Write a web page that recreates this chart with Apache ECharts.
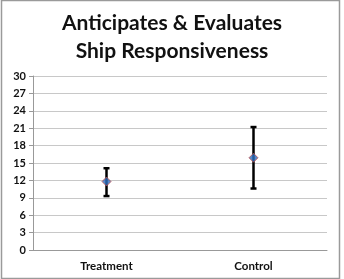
<!DOCTYPE html>
<html>
<head>
<meta charset="utf-8">
<script src="https://cdn.jsdelivr.net/npm/echarts@6/dist/echarts.min.js"></script>
<style>
  html, body { margin: 0; padding: 0; background: #fff; }
  #chart { width: 344px; height: 279px; }
</style>
</head>
<body>
<div id="chart"></div>
<script>
  const categories = ['Treatment', 'Control']
  const means = [11.8, 15.9]
  const lows = [9.3, 10.6]
  const highs = [14.1, 21.2]
  const yTicks = [0, 3, 6, 9, 12, 15, 18, 21, 24, 27, 30]

  const chart = echarts.init(document.getElementById('chart'))
  chart.setOption({
    animation: false,
    textStyle: { fontFamily: 'Lato' },
    title: {
      text: 'Anticipates & Evaluates\nShip Responsiveness',
      left: 'center',
      top: 4,
      textStyle: { fontSize: 21, fontWeight: 'bold', color: '#111', lineHeight: 28, fontFamily: 'Lato' }
    },
    graphic: [{
      type: 'rect',
      shape: { x: 1.5, y: 0.5, width: 338, height: 278 },
      style: { fill: 'none', stroke: '#9a9a9a', lineWidth: 1.5 },
      silent: true
    }],
    grid: { left: 33, right: 17, top: 76, bottom: 29 },
    xAxis: {
      type: 'category',
      data: categories,
      axisLine: { lineStyle: { color: '#999' } },
      axisTick: { show: false },
      axisLabel: { color: '#111', fontWeight: 'bold', fontSize: 11.5, margin: 10 }
    },
    yAxis: {
      type: 'value',
      min: yTicks[0],
      max: yTicks[yTicks.length - 1],
      interval: 3,
      axisLine: { show: true, lineStyle: { color: '#999' } },
      axisTick: { show: true, length: 4, lineStyle: { color: '#999' } },
      axisLabel: { color: '#111', fontWeight: 'bold', fontSize: 11, margin: 7 },
      splitLine: { lineStyle: { color: '#c8c8c8' } }
    },
    series: [
      {
        type: 'custom',
        data: categories.map((c, i) => [i, lows[i], highs[i]]),
        renderItem: function (params, api) {
          const x = api.value(0)
          const lo = api.coord([x, api.value(1)])
          const hi = api.coord([x, api.value(2)])
          const cap = 3
          const style = { stroke: '#000', lineWidth: 2.5 }
          return {
            type: 'group',
            children: [
              { type: 'line', shape: { x1: lo[0], y1: lo[1], x2: hi[0], y2: hi[1] }, style: style },
              { type: 'line', shape: { x1: lo[0] - cap, y1: lo[1], x2: lo[0] + cap, y2: lo[1] }, style: style },
              { type: 'line', shape: { x1: hi[0] - cap, y1: hi[1], x2: hi[0] + cap, y2: hi[1] }, style: style }
            ]
          }
        },
        z: 2
      },
      {
        type: 'scatter',
        data: means,
        symbol: 'diamond',
        symbolSize: 9,
        itemStyle: { color: '#2e6fc0', borderColor: '#c0504d', borderWidth: 1 },
        z: 3
      }
    ]
  })
</script>
</body>
</html>
